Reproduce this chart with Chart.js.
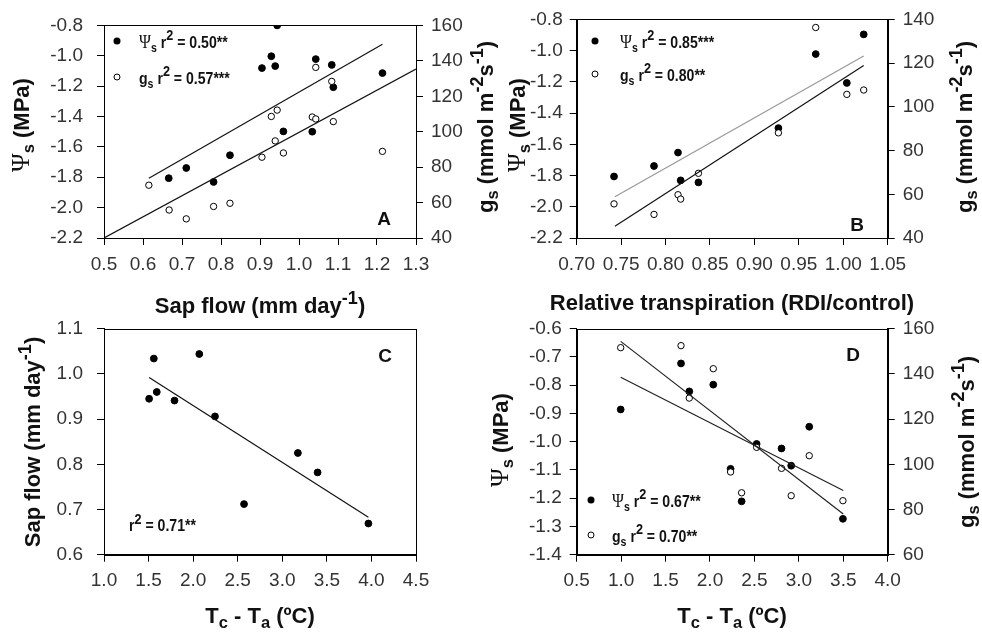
<!DOCTYPE html>
<html>
<head>
<meta charset="utf-8">
<script src="https://cdn.jsdelivr.net/npm/chart.js@4.4.0/dist/chart.umd.min.js"></script>
<style>
  body { margin: 0; background: #fff; }
  #fig { position: relative; width: 982px; height: 635px; font-family: "Liberation Sans", Arial, sans-serif; color: #111; }
  #fig canvas { position: absolute; }
  .t { position: absolute; white-space: nowrap; font-weight: bold; line-height: 1; }
  .title { font-size: 22px; transform: translate(-50%, -50%); }
  .vt { font-size: 22px; transform: translate(-50%, -50%) rotate(-90deg); }
  .leg { font-size: 16px; transform-origin: 0 50%; transform: translateY(-50%) scaleX(0.88); }
  .tag { font-size: 19px; transform: translate(-50%, -50%); }
  .psi { font-family: "Liberation Serif", "DejaVu Serif", serif; font-weight: normal; font-size: 115%; }
  sub { font-size: 75%; vertical-align: -0.3em; }
  sup { font-size: 82%; vertical-align: 0.55em; }
  .leg sup { font-size: 90%; }
  .dot { position: absolute; width: 7px; height: 7px; border-radius: 50%; background: #000; transform: translate(-50%, -50%); }
  .ring { position: absolute; width: 5px; height: 5px; border-radius: 50%; border: 1px solid #000; background: #fff; transform: translate(-50%, -50%); }
</style>
</head>
<body>
<div id="fig">
  <canvas id="cA" width="491" height="280" style="left:0;top:0"></canvas>
  <canvas id="cB" width="491" height="280" style="left:491px;top:0"></canvas>
  <canvas id="cC" width="491" height="355" style="left:0;top:280px"></canvas>
  <canvas id="cD" width="491" height="355" style="left:491px;top:280px"></canvas>

  <!-- axis titles -->
  <div class="t vt" style="left:22px;top:125px"><span class="psi">&Psi;</span><sub>s</sub> (MPa)</div>
  <div class="t vt" style="left:484px;top:127px">g<sub>s</sub> (mmol m<sup>-2</sup>s<sup>-1</sup>)</div>
  <div class="t title" style="left:260px;top:303px">Sap flow (mm day<sup>-1</sup>)</div>

  <div class="t vt" style="left:518px;top:125px"><span class="psi">&Psi;</span><sub>s</sub> (MPa)</div>
  <div class="t vt" style="left:963px;top:127px">g<sub>s</sub> (mmol m<sup>-2</sup>s<sup>-1</sup>)</div>
  <div class="t title" style="left:732px;top:303px">Relative transpiration (RDI/control)</div>

  <div class="t vt" style="left:30px;top:442px">Sap flow (mm day<sup>-1</sup>)</div>
  <div class="t title" style="left:260px;top:618px">T<sub>c</sub> - T<sub>a</sub> (ºC)</div>

  <div class="t vt" style="left:501px;top:440px"><span class="psi">&Psi;</span><sub>s</sub> (MPa)</div>
  <div class="t vt" style="left:965px;top:442px">g<sub>s</sub> (mmol m<sup>-2</sup>s<sup>-1</sup>)</div>
  <div class="t title" style="left:732px;top:618px">T<sub>c</sub> - T<sub>a</sub> (ºC)</div>

  <!-- in-plot legends -->
  <div class="dot" style="left:117px;top:41px"></div>
  <div class="t leg" style="left:139px;top:41px"><span class="psi">&Psi;</span><sub>s</sub> r<sup>2</sup> = 0.50**</div>
  <div class="ring" style="left:117px;top:77px"></div>
  <div class="t leg" style="left:139px;top:77px">g<sub>s</sub> r<sup>2</sup> = 0.57***</div>

  <div class="dot" style="left:595px;top:41px"></div>
  <div class="t leg" style="left:620px;top:41px"><span class="psi">&Psi;</span><sub>s</sub> r<sup>2</sup> = 0.85***</div>
  <div class="ring" style="left:595px;top:74px"></div>
  <div class="t leg" style="left:620px;top:74px">g<sub>s</sub> r<sup>2</sup> = 0.80**</div>

  <div class="t leg" style="left:129px;top:523px">r<sup>2</sup> = 0.71**</div>

  <div class="dot" style="left:591px;top:500px"></div>
  <div class="t leg" style="left:612px;top:500px"><span class="psi">&Psi;</span><sub>s</sub> r<sup>2</sup> = 0.67**</div>
  <div class="ring" style="left:591px;top:535px"></div>
  <div class="t leg" style="left:612px;top:535px">g<sub>s</sub> r<sup>2</sup> = 0.70**</div>

  <!-- panel letters -->
  <div class="t tag" style="left:384px;top:218px">A</div>
  <div class="t tag" style="left:857px;top:224px">B</div>
  <div class="t tag" style="left:385px;top:355px">C</div>
  <div class="t tag" style="left:853px;top:354px">D</div>
</div>

<script>
// Panel A: sap flow vs. stem water potential (filled) and stomatal conductance (open)
const aSapPsi = [0.666, 0.711, 0.781, 0.823, 0.905, 0.929, 0.944, 0.939, 0.960, 1.034, 1.043, 1.084, 1.088, 1.214];
const aPsi = [-1.806, -1.739, -1.831, -1.655, -1.081, -1.003, -0.800, -1.068, -1.498, -1.500, -1.022, -1.060, -1.207, -1.114];
const aSapGs = [0.615, 0.667, 0.711, 0.781, 0.823, 0.905, 0.929, 0.944, 0.939, 0.960, 1.034, 1.043, 1.043, 1.084, 1.088, 1.214];
const aGs = [69.8, 55.8, 50.8, 57.8, 59.6, 85.6, 108.6, 112.2, 94.8, 88.0, 108.3, 107.2, 136.3, 128.4, 105.7, 88.9];
const aPsiFitX = [0.615, 1.214], aPsiFitY = [-1.806, -0.924];
const aGsFitX = [0.5, 1.3], aGsFitY = [40, 135.4];

// Panel B: relative transpiration (RDI/control)
const bRel = [0.742, 0.787, 0.814, 0.817, 0.837, 0.927, 0.969, 1.004, 1.023];
const bPsi = [-1.806, -1.739, -1.653, -1.831, -1.844, -1.496, -1.022, -1.207, -0.896];
const bGs = [55.6, 50.8, 59.8, 57.8, 69.6, 88.1, 136.3, 105.7, 107.7];
const bPsiFitX = [0.743, 1.023], bPsiFitY = [-1.936, -1.035];
const bGsFitX = [0.743, 1.023], bGsFitY = [45.4, 118.9];

// Panel C: canopy - air temperature vs. sap flow
const cDT = [1.506, 1.559, 1.592, 1.791, 2.069, 2.245, 2.571, 3.175, 3.396, 3.966];
const cSap = [0.945, 1.034, 0.960, 0.941, 1.044, 0.906, 0.712, 0.825, 0.782, 0.669];
const cFitX = [1.506, 3.966], cFitY = [0.992, 0.683];

// Panel D: canopy - air temperature vs. Ψs and gs
const dDT = [0.995, 1.674, 1.767, 2.037, 2.232, 2.356, 2.525, 2.805, 2.914, 3.117, 3.496];
const dPsi = [-0.886, -0.723, -0.822, -0.798, -1.096, -1.211, -1.008, -1.024, -1.085, -0.947, -1.273];
const dGs = [151.6, 152.5, 129.3, 142.3, 96.6, 87.4, 107.5, 98.2, 86.1, 103.8, 83.9];
const dPsiFitX = [0.995, 3.5], dPsiFitY = [-0.772, -1.173];
const dGsFitX = [0.995, 3.5], dGsFitY = [154.4, 78.0];

const tickFont = { family: '"Liberation Sans", Arial, sans-serif', size: 19 };

const pts = (xs, ys) => xs.map((x, i) => ({ x, y: ys[i] }));

function dots(xs, ys, axis, open) {
  return {
    data: pts(xs, ys), yAxisID: axis, showLine: false,
    pointRadius: open ? 3.2 : 3.4, pointHoverRadius: 0,
    pointBackgroundColor: open ? '#fff' : '#000',
    pointBorderColor: '#000', pointBorderWidth: 1
  };
}

function fit(xs, ys, axis, color) {
  return {
    data: pts(xs, ys), yAxisID: axis, showLine: true,
    pointRadius: 0, borderColor: color, borderWidth: 1.2, fill: false
  };
}

function axis(min, max, step, digits, extra) {
  return Object.assign({
    type: 'linear', min, max,
    grid: { drawOnChartArea: false, drawTicks: true, tickLength: 7, color: '#000' },
    border: { display: true, color: '#000', width: 1 },
    ticks: {
      stepSize: step, autoSkip: false, maxRotation: 0, font: tickFont, color: '#333',
      callback: v => Number(v).toFixed(digits)
    }
  }, extra);
}

function sized(ax, w, h, pad) {
  ax.afterFit = s => { if (w != null) s.width = w; if (h != null) s.height = h; };
  ax.ticks.padding = pad;
  return ax;
}

// box around the plotting area
const frame = {
  id: 'frame',
  afterDraw(chart) {
    const a = chart.chartArea, c = chart.ctx;
    c.save();
    c.strokeStyle = '#000';
    c.lineWidth = 1;
    c.strokeRect(Math.round(a.left) + 0.5, Math.round(a.top) + 0.5,
      Math.round(a.right - a.left), Math.round(a.bottom - a.top));
    c.restore();
  }
};

function panel(id, datasets, scales, top, right) {
  new Chart(document.getElementById(id), {
    type: 'scatter',
    data: { datasets },
    options: {
      responsive: false, animation: false,
      layout: { autoPadding: false, padding: { top, left: 0, right: right || 0, bottom: 0 } },
      plugins: { legend: { display: false }, tooltip: { enabled: false } },
      scales
    },
    plugins: [frame]
  });
}

panel('cA', [
  fit(aPsiFitX, aPsiFitY, 'y', '#111'),
  fit(aGsFitX, aGsFitY, 'y2', '#111'),
  dots(aSapGs, aGs, 'y2', true),
  dots(aSapPsi, aPsi, 'y', false)
], {
  x: sized(axis(0.5, 1.3, 0.1, 1, { position: 'bottom' }), null, 42, 8),
  y: sized(axis(-2.2, -0.8, 0.2, 1, { position: 'left' }), 104, null, 14),
  y2: sized(axis(40, 160, 20, 0, { position: 'right' }), 75, null, 8)
}, 15);

panel('cB', [
  fit(bPsiFitX, bPsiFitY, 'y', '#999'),
  fit(bGsFitX, bGsFitY, 'y2', '#111'),
  dots(bRel, bGs, 'y2', true),
  dots(bRel, bPsi, 'y', false)
], {
  x: sized(axis(0.70, 1.05, 0.05, 2, { position: 'bottom' }), null, 42, 8),
  y: sized(axis(-2.2, -0.8, 0.2, 1, { position: 'left' }), 85.7, null, 7),
  y2: sized(axis(40, 140, 20, 0, { position: 'right' }), 94.3, null, 8)
}, 15);

panel('cC', [
  fit(cFitX, cFitY, 'y', '#111'),
  dots(cDT, cSap, 'y', false)
], {
  x: sized(axis(1.0, 4.5, 0.5, 1, { position: 'bottom' }), null, 80.3, 8),
  y: sized(axis(0.6, 1.1, 0.1, 1, { position: 'left' }), 104, null, 14)
}, 48.7, 75);

panel('cD', [
  fit(dPsiFitX, dPsiFitY, 'y', '#222'),
  fit(dGsFitX, dGsFitY, 'y2', '#222'),
  dots(dDT, dGs, 'y2', true),
  dots(dDT, dPsi, 'y', false)
], {
  x: sized(axis(0.5, 4.0, 0.5, 1, { position: 'bottom' }), null, 80.3, 8),
  y: sized(axis(-1.4, -0.6, 0.1, 1, { position: 'left' }), 85.7, null, 8),
  y2: sized(axis(60, 160, 20, 0, { position: 'right' }), 94.3, null, 8)
}, 48.7);
</script>
</body>
</html>
